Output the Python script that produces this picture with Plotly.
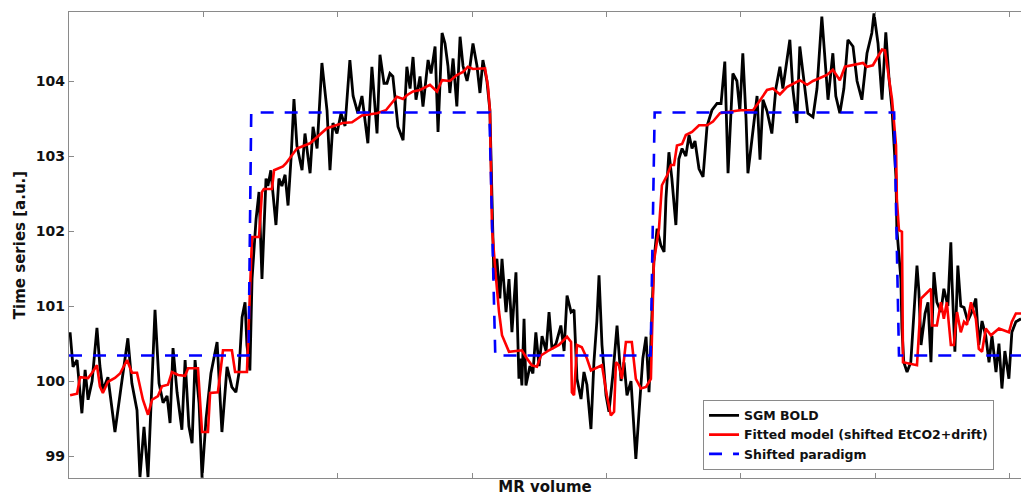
import plotly.graph_objects as go

# ---- data ----
bold_vol = [0.4, 1.5, 3.0, 4.8, 6.0, 7.1, 8.6, 10.4, 11.5, 12.6, 14.5, 17.1, 19.3, 21.9, 23.4, 25.3,
            26.4, 27.9, 29.4, 30.9, 32.0, 33.5, 35.0, 36.5, 37.6, 38.7, 40.2, 42.0, 43.2, 44.6, 45.8,
            46.9, 48.4, 49.5, 51.0, 52.8, 55.1, 56.9, 58.8, 60.6, 62.1, 63.2, 64.4, 65.5, 66.2, 67.3,
            68.1, 69.6, 70.7, 71.8, 72.5, 73.3, 74.0, 75.1, 75.9, 77.0, 78.1, 79.2, 80.4, 81.5, 82.6,
            83.7, 84.8, 86.7, 87.8, 89.7, 90.8, 92.3, 94.1, 96.0, 97.1, 98.2, 99.7, 101.2, 102.7,
            104.5, 105.7, 107.5, 109.0, 111.2, 112.7, 114.6, 115.7, 117.2, 118.3, 119.4, 120.5,
            121.7, 122.4, 124.3, 125.7, 126.9, 128.0, 129.1, 130.6, 131.7, 133.6, 134.7, 136.2,
            137.3, 138.8, 139.9, 141.0, 141.7, 142.9, 144.3, 145.5, 146.6, 148.1, 149.2, 150.3,
            151.8, 152.9, 154.0, 155.5, 156.6, 157.4, 158.1, 159.2, 160.3, 161.1, 162.6, 163.7,
            164.8, 166.3, 167.4, 167.8, 168.5, 169.3, 170.0, 171.5, 172.6, 173.7, 174.9, 176.0,
            177.5, 178.6, 179.7, 181.2, 183.0, 184.2, 185.3, 186.8, 187.9, 189.0, 190.5, 191.6,
            192.7, 194.2, 195.3, 196.4, 197.2, 198.3, 199.8, 200.9, 202.4, 203.9, 205.4, 206.5,
            207.6, 209.1, 210.9, 212.1, 213.5, 214.7, 215.8, 216.9, 217.6, 218.8, 220.2, 221.4,
            222.1, 223.2, 224.3, 225.8, 226.9, 228.1, 229.5, 230.7, 231.8, 232.9, 234.4, 235.9,
            237.4, 239.2, 241.1, 242.6, 244.0, 245.2, 247.0, 248.5, 249.6, 250.7, 251.9, 252.6,
            254.5, 256.0, 257.1, 258.2, 259.7, 261.5, 263.0, 264.5, 265.6, 267.1, 268.2, 269.3,
            270.8, 271.9, 273.4, 274.9, 276.8, 278.3, 280.1, 281.3, 282.4, 284.2, 285.3, 286.8,
            288.3, 289.8, 291.7, 293.2, 295.0, 296.9, 298.7, 299.5, 301.0, 302.5, 303.9, 305.1,
            306.2, 307.7, 308.0, 309.5, 309.9, 310.6, 311.8, 313.2, 314.4, 315.5, 316.2, 317.0,
            318.5, 319.6, 320.7, 321.8, 322.9, 324.4, 325.5, 327.0, 328.1, 328.5, 329.6, 330.7,
            331.8, 333.0, 334.4, 335.9, 337.4, 338.5, 339.7, 341.1, 342.3, 343.4, 344.9, 346.0,
            347.1, 348.2, 349.7, 350.8, 352.3, 354.2]
bold_val = [100.65, 100.19, 100.28, 99.57, 100.15, 99.75, 100.0, 100.71, 100.2, 99.88, 100.05, 99.32,
            99.9, 100.57, 99.97, 99.61, 98.72, 99.39, 98.72, 99.9, 100.95, 99.97, 99.71, 99.8, 99.44,
            100.44, 99.85, 99.35, 100.28, 99.4, 99.17, 100.28, 99.7, 98.71, 99.5, 100.1, 100.52,
            99.32, 100.19, 99.92, 99.85, 100.1, 100.85, 101.05, 100.48, 100.14,
            101.36, 102.16, 102.52, 101.36, 102.1, 102.7, 102.6, 102.81, 102.5, 102.08, 102.7,
            102.6, 102.75, 102.34, 102.96, 103.76, 103.14, 102.81, 103.3, 102.77, 103.39, 103.1,
            104.24, 103.61, 102.81, 103.44, 103.3, 103.57, 103.4, 104.28, 103.8, 103.57, 103.8,
            103.17, 104.19, 103.3, 104.35, 103.97, 103.97, 104.1, 104.06, 103.65, 103.39, 103.21,
            104.19, 103.9, 104.32, 103.75, 104.06, 103.66, 104.28, 104.1, 104.46, 103.32, 104.64,
            104.5, 104.2, 103.84, 104.3, 103.66, 104.59, 104.2, 104.0, 104.2, 104.5, 104.2, 103.84,
            104.28, 104.0, 103.61, 102.25, 101.36, 101.63, 101.1, 101.63, 100.92, 101.36, 100.65,
            101.45, 100.03, 100.3, 99.94, 100.83, 99.94, 100.2, 100.1, 100.65, 100.2, 100.6, 100.4,
            100.92, 100.43, 100.5, 100.74, 100.4, 101.14, 100.92, 100.95, 100.03, 99.76, 100.12,
            99.95, 99.36, 100.25, 100.8, 101.41, 100.48, 99.81, 99.59, 100.1, 100.74, 100.0, 100.25,
            99.81, 100.0, 98.96, 99.59, 100.3, 100.59, 99.85, 100.9, 101.59, 102.03, 101.81, 101.72,
            102.43, 103.05, 102.7, 102.08, 102.96, 103.1, 103.0, 103.28, 103.1, 103.2, 102.83, 102.72,
            103.4, 103.61, 103.7, 103.7, 104.26, 102.77, 104.1, 104.0, 103.6, 104.37, 103.5, 102.77,
            103.39, 103.8, 102.95, 103.75, 103.6, 103.3, 103.9, 104.19, 103.9, 104.28, 104.55, 103.9,
            103.44, 104.46, 104.0, 103.57, 103.52, 103.9, 104.86, 104.28, 103.75, 104.37, 103.8,
            103.57, 103.9, 104.55, 104.46, 104.0, 103.75, 104.37, 104.64, 104.9, 104.5, 103.75,
            104.65, 104.03, 103.63, 102.7, 102.03, 101.36, 100.7, 100.25, 100.12, 100.25, 100.9,
            101.54, 101.2, 100.48, 100.9, 101.05, 100.25, 101.45, 101.05, 100.92, 101.23, 101.0,
            101.85, 101.36, 100.39, 101.54, 101.0, 100.98, 100.8, 100.92, 101.1, 100.48, 100.8,
            100.6, 100.25, 100.6, 100.12, 100.5, 99.9, 100.4, 100.03, 100.65, 100.79, 100.83]

fit_vol = [0.4, 3.0, 4.1, 7.1, 8.6, 10.4, 11.5, 12.6, 14.5, 17.1, 19.0, 21.6, 23.4, 25.3, 27.5, 29.4,
           30.9, 33.1, 34.6, 36.8, 38.3, 40.6, 43.2, 44.3, 48.0, 49.5, 51.7, 52.5, 55.4, 56.9, 57.3,
           60.6, 61.8, 66.2, 66.6, 67.3, 68.1, 70.7, 71.8, 72.5, 75.5, 76.3, 79.6, 80.7, 84.8, 89.7,
           96.0, 101.9, 105.3, 109.0, 114.6, 117.9, 119.4, 122.0, 124.3, 125.7, 128.0, 130.6, 134.3,
           136.9, 138.8, 141.7, 144.3, 146.6, 148.4, 150.3, 154.8, 155.9, 156.6, 157.4, 158.9, 160.0,
           161.1, 163.7, 168.5, 170.0, 172.2, 174.1, 175.6, 178.6, 182.3, 185.3, 186.8, 187.1, 187.9,
           189.0, 190.8, 192.7, 194.2, 198.3, 200.1, 201.6, 202.8, 203.5, 204.6, 205.7, 207.2, 209.4,
           210.9, 212.8, 214.7, 216.5, 217.6, 219.5, 220.6, 222.5, 224.0, 225.1, 226.2, 228.1, 229.5,
           231.8, 234.4, 237.4, 239.6, 242.2, 249.6, 254.5, 256.3, 259.7, 261.9, 264.5, 267.1, 271.9,
           274.6, 276.8, 279.4, 282.0, 284.2, 286.8, 288.7, 291.7, 295.4, 296.9, 299.1, 302.5, 303.6,
           305.1, 306.2, 307.7, 308.0, 308.8, 309.9, 310.3, 315.5, 317.0, 320.7, 321.1, 322.9, 324.4,
           325.5, 326.6, 328.1, 329.2, 330.4, 331.8, 333.0, 334.1, 335.6, 337.4, 338.5, 339.7, 341.1,
           343.0, 346.0, 349.7, 350.8, 352.3, 354.2]
fit_val = [99.81, 99.83, 100.05, 100.04, 100.11, 100.21, 99.93, 99.84, 99.99, 100.04, 100.10, 100.28,
           100.11, 100.11, 99.75, 99.55, 99.75, 99.80, 99.93, 99.95, 100.12, 100.08, 100.07, 100.17,
           100.17, 99.32, 99.32, 99.84, 99.85, 100.32, 100.41, 100.41, 100.12, 100.12, 100.48, 101.36,
           101.92, 101.92, 102.52, 102.56, 102.56, 102.81, 102.86, 102.90, 103.10, 103.17, 103.37,
           103.44, 103.45, 103.54, 103.57, 103.61, 103.68, 103.79, 103.76, 103.81, 103.86, 103.88,
           103.95, 103.86, 104.01, 104.00, 104.08, 104.12, 104.19, 104.16, 104.17, 103.92, 103.61,
           102.03, 101.36, 100.92, 100.61, 100.39, 100.41, 100.32, 100.21, 100.19, 100.34, 100.41,
           100.48, 100.59, 100.52, 99.85, 99.81, 100.48, 100.45, 100.30, 100.14, 100.21, 99.81, 99.54,
           99.59, 100.25, 100.21, 100.03, 100.52, 100.52, 100.03, 99.90, 99.92, 100.03, 101.59,
           102.03, 102.61, 102.74, 102.88, 102.88, 103.14, 103.16, 103.28, 103.32, 103.41, 103.41,
           103.46, 103.57, 103.61, 103.61, 103.70, 103.88, 103.90, 103.82, 103.92, 104.01, 103.95,
           104.00, 104.04, 104.08, 104.15, 104.01, 104.19, 104.21, 104.24, 104.19, 104.21, 104.42,
           104.41, 104.03, 103.76, 103.14, 102.43, 102.01, 101.99, 100.25, 100.21, 101.10, 101.23,
           100.74, 100.74, 101.05, 100.83, 101.05, 100.48, 100.48, 100.92, 100.65, 100.79, 100.75,
           101.05, 100.83, 100.43, 100.39, 100.70, 100.61, 100.70, 100.65, 100.79, 100.90, 100.90]

par_vol = [0.0, 66.8, 67.8, 156.4, 158.6, 216.4, 217.9, 307.0, 308.8, 354.2]
par_val = [100.34, 100.34, 103.58, 103.58, 100.34, 100.34, 103.58, 103.58, 100.34, 100.34]

x_ticks = [50, 100, 150, 200, 250, 300, 350]
y_ticks = [99, 100, 101, 102, 103, 104]

FONT = "DejaVu Sans"
AXIS_GREY = "#8a8a8a"

fig = go.Figure()
fig.add_trace(go.Scatter(x=bold_vol, y=bold_val, mode="lines", name="SGM BOLD",
                         line=dict(color="black", width=2.8)))
fig.add_trace(go.Scatter(x=fit_vol, y=fit_val, mode="lines",
                         name="Fitted model (shifted EtCO2+drift)",
                         line=dict(color="#ff0000", width=2.6)))
fig.add_trace(go.Scatter(x=par_vol, y=par_val, mode="lines", name="Shifted paradigm",
                         line=dict(color="#0000ff", width=2.6, dash="13px,11px")))

fig.update_layout(
    width=1021, height=499,
    margin=dict(l=69, r=0, t=12, b=21),
    paper_bgcolor="white", plot_bgcolor="white",
    font=dict(family=FONT, color="#1a1a1a"),
    showlegend=True,
    legend=dict(x=0.666, y=0.168, xanchor="left", yanchor="top",
                bgcolor="white", bordercolor=AXIS_GREY, borderwidth=1,
                font=dict(family=FONT, size=12.5, weight=700, color="#111"),
                itemwidth=30, tracegroupgap=0),
)
fig.update_xaxes(
    range=[0, 354.2], tickvals=x_ticks, showticklabels=False,
    ticks="inside", ticklen=5, tickcolor=AXIS_GREY, tickwidth=1,
    showline=True, linecolor=AXIS_GREY, linewidth=1.2, mirror="ticks",
    showgrid=False, zeroline=False, automargin=False,
    title=dict(text="MR volume", standoff=3,
               font=dict(family=FONT, size=15, weight=700, color="#111")),
)
fig.update_yaxes(
    range=[98.707, 104.92], tickvals=y_ticks,
    ticks="inside", ticklen=5, tickcolor=AXIS_GREY, tickwidth=1,
    tickfont=dict(family=FONT, size=14, weight=700, color="#111"),
    showline=True, linecolor=AXIS_GREY, linewidth=1.2, mirror=False,
    showgrid=False, zeroline=False, automargin=False,
    title=dict(text="Time series [a.u.]", standoff=6,
               font=dict(family=FONT, size=15, weight=700, color="#111")),
)

fig.write_html("out.html", config={"displayModeBar": False},
               post_script="document.body.style.margin='0';")
